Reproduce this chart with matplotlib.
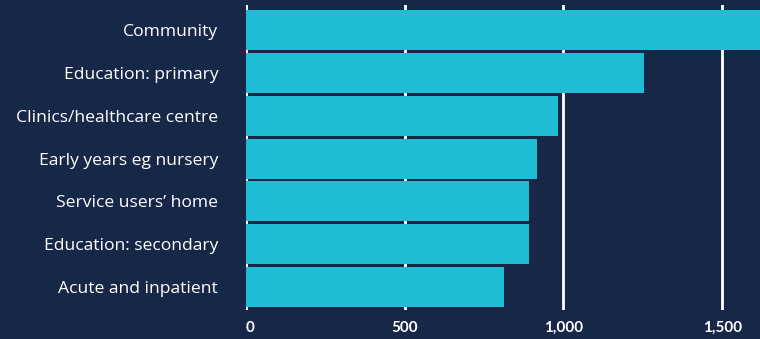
import matplotlib
matplotlib.use("Agg")
import matplotlib.pyplot as plt

categories = ["Community", "Education: primary", "Clinics/healthcare centre",
              "Early years eg nursery", "Service users\u2019 home",
              "Education: secondary", "Acute and inpatient"]
values = [1650, 1253, 983, 916, 891, 891, 812]
xticks = [0, 500, 1000, 1500]
xtick_labels = ["0", "500", "1,000", "1,500"]

BG = "#172748"
BAR = "#1ebdd3"

fig = plt.figure(figsize=(7.6, 3.39), dpi=100, facecolor=BG)
ax = fig.add_axes([246 / 760, 29 / 339, (760 - 246) / 760, 305 / 339], facecolor=BG)

ax.barh(range(len(categories)), values, height=0.934, color=BAR, zorder=2)
ax.set_xlim(0, 1619)
ax.set_ylim(6.537, -0.584)

ax.set_xticks(xticks)
ax.set_xticklabels(xtick_labels, fontsize=11, fontweight="bold", color="white", family="Lato")
ax.set_yticks(range(len(categories)))
ax.set_yticklabels(categories, fontsize=12.6, fontweight="medium", color="white", family="Open Sans")
ax.tick_params(axis="x", length=0, pad=8)
ax.tick_params(axis="y", length=0, pad=20)
for lbl, ha in zip(ax.get_xticklabels(), ["left", "center", "center", "center"]):
    lbl.set_ha(ha)

ax.grid(axis="x", color="white", lw=2, zorder=1)
for s in ax.spines.values():
    s.set_visible(False)

fig.savefig("out.png", dpi=100, facecolor=BG)
